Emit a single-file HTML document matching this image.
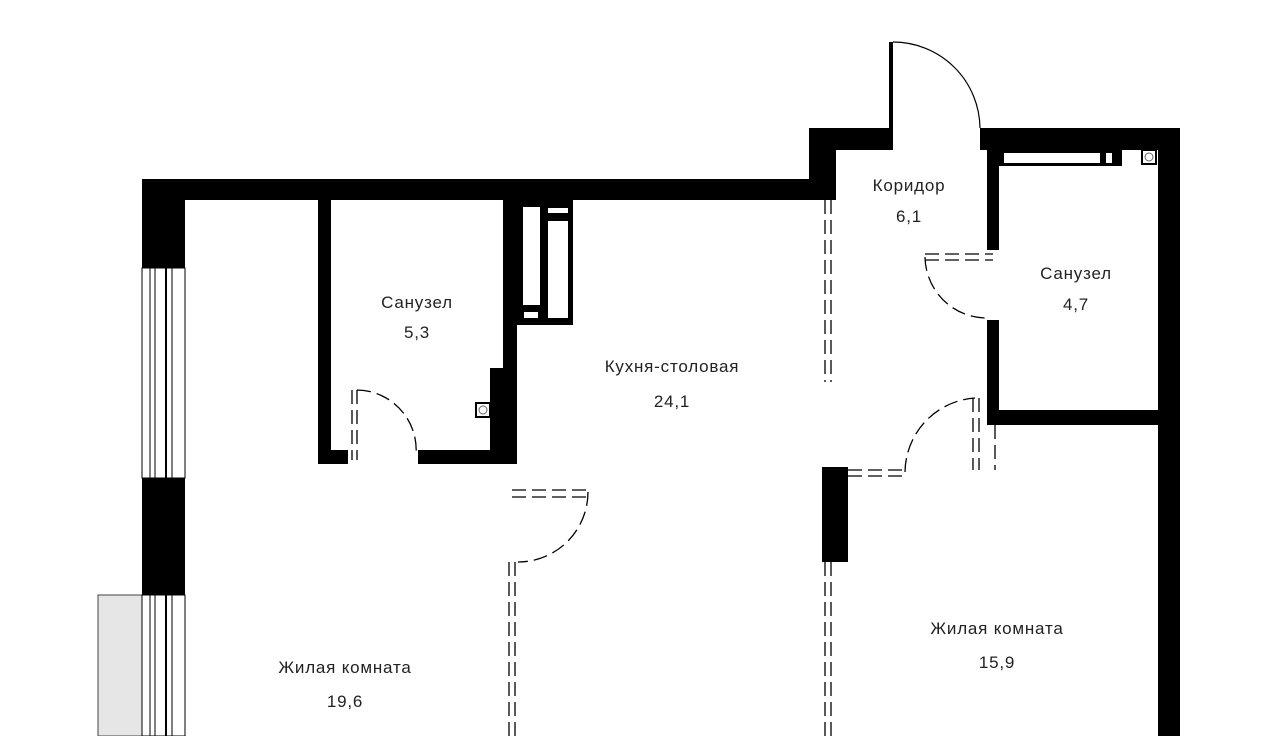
<!DOCTYPE html>
<html><head><meta charset="utf-8"><style>
html,body{margin:0;padding:0;background:#fff;}
svg{display:block}
text{font-family:"Liberation Sans",sans-serif;font-size:17px;letter-spacing:0.8px;fill:#222;text-anchor:middle}
</style></head><body>
<svg width="1280" height="736" viewBox="0 0 1280 736" xmlns="http://www.w3.org/2000/svg">
<rect x="98" y="595" width="44" height="141" fill="#e6e6e6" stroke="#444" stroke-width="1"/>
<g fill="#000">
<rect x="142" y="179" width="694" height="21"/>
<rect x="142" y="179" width="43" height="89"/>
<rect x="142" y="478" width="43" height="117"/>
<rect x="809" y="128" width="27" height="72"/>
<rect x="809" y="128" width="84" height="22"/>
<rect x="980" y="128" width="200" height="22"/>
<rect x="1158" y="128" width="22" height="608"/>
<rect x="987" y="150" width="12" height="100"/>
<rect x="987" y="320" width="12" height="105"/>
<rect x="987" y="410" width="171" height="15"/>
<rect x="318" y="200" width="13" height="264"/>
<rect x="318" y="450" width="30" height="14"/>
<rect x="418" y="450" width="99" height="14"/>
<rect x="503" y="200" width="14" height="264"/>
<rect x="490" y="368" width="27" height="96"/>
<rect x="822" y="467" width="26" height="95"/>
<rect x="514" y="200" width="59" height="125"/>
<rect x="889" y="42" width="4" height="86"/>
<rect x="999" y="150" width="123" height="16"/>
</g>
<g fill="#fff">
<rect x="523" y="207" width="17" height="98"/>
<rect x="524" y="312" width="14" height="6"/>
<rect x="548" y="208" width="20" height="5"/>
<rect x="548" y="221" width="20" height="97"/>
<rect x="1004" y="153" width="96" height="10"/>
<rect x="1106" y="153" width="6" height="10"/>
</g>
<rect x="1142" y="150" width="14" height="14" fill="#fff" stroke="#000" stroke-width="2"/>
<circle cx="1149" cy="157" r="4" fill="none" stroke="#666"/>
<rect x="476" y="403" width="14" height="14" fill="#fff" stroke="#000" stroke-width="2"/>
<circle cx="483" cy="410" r="4" fill="none" stroke="#666"/>
<g fill="none" stroke="#000" stroke-width="1">
<rect x="142" y="268" width="43" height="210"/>
<line x1="150" y1="268" x2="150" y2="478"/><line x1="155" y1="268" x2="155" y2="478"/>
<line x1="166" y1="268" x2="166" y2="478" stroke-width="2"/><line x1="172" y1="268" x2="172" y2="478"/>
<rect x="142" y="595" width="43" height="141"/>
<line x1="150" y1="595" x2="150" y2="736"/><line x1="155" y1="595" x2="155" y2="736"/>
<line x1="166" y1="595" x2="166" y2="736" stroke-width="2"/><line x1="172" y1="595" x2="172" y2="736"/>
<path d="M893 42 A87 87 0 0 1 980 128" stroke-width="1.2"/>
</g>
<g fill="none" stroke="#000" stroke-width="1.3" stroke-dasharray="14,6">
<line x1="825" y1="200" x2="825" y2="382"/><line x1="831" y1="200" x2="831" y2="382"/>
<line x1="825" y1="562" x2="825" y2="736"/><line x1="831" y1="562" x2="831" y2="736"/>
<line x1="509" y1="562" x2="509" y2="736"/><line x1="515" y1="562" x2="515" y2="736"/>
<line x1="352" y1="390" x2="352" y2="460"/><line x1="357" y1="390" x2="357" y2="460"/>
<path d="M357 390 A60 60 0 0 1 416 455"/>
<line x1="512" y1="490" x2="588" y2="490"/><line x1="512" y1="497" x2="588" y2="497"/>
<path d="M588 492 A70 70 0 0 1 518 562"/>
<line x1="925" y1="254" x2="993" y2="254"/><line x1="925" y1="260" x2="993" y2="260"/>
<path d="M925 257 A62 62 0 0 0 990 318"/>
<line x1="848" y1="470" x2="905" y2="470"/><line x1="848" y1="476" x2="905" y2="476"/>
<path d="M905 472 A75 75 0 0 1 975 398"/>
<line x1="973" y1="398" x2="973" y2="470"/><line x1="979" y1="398" x2="979" y2="470"/>
<line x1="995" y1="425" x2="995" y2="470"/>
</g>
<text x="417" y="308">Санузел</text>
<text x="417" y="338">5,3</text>
<text x="672" y="372">Кухня-столовая</text>
<text x="672" y="407">24,1</text>
<text x="909" y="191">Коридор</text>
<text x="909" y="222">6,1</text>
<text x="1076" y="279">Санузел</text>
<text x="1076" y="310">4,7</text>
<text x="997" y="634">Жилая комната</text>
<text x="997" y="668">15,9</text>
<text x="345" y="673">Жилая комната</text>
<text x="345" y="707">19,6</text>
</svg>
</body></html>
